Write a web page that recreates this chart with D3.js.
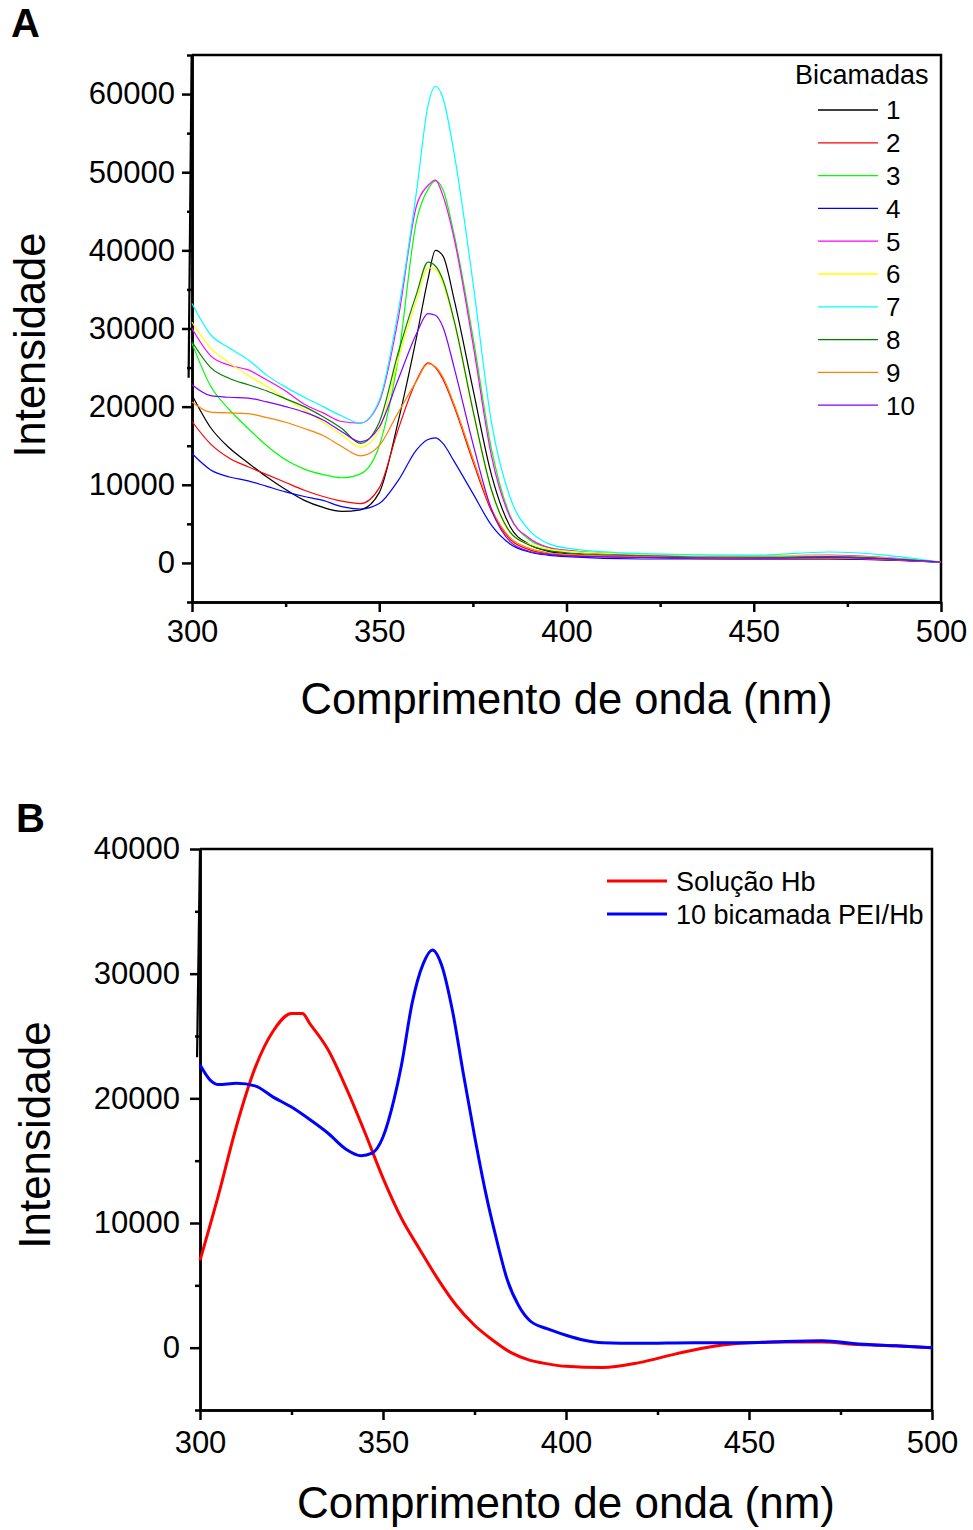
<!DOCTYPE html>
<html>
<head>
<meta charset="utf-8">
<script src="https://cdn.jsdelivr.net/npm/d3@7"></script>
<style>
  body { margin: 0; background: #fff; }
  text { font-family: Arial, "Liberation Sans", sans-serif; fill: #000; }
</style>
</head>
<body>
<svg id="fig" width="973" height="1530"></svg>
<script>
// ---------- data: panel A (emission vs number of bilayers) ----------
var wlA = [300,305,310,315,320,325,330,335,340,345,350,355,360,363,365,367,370,375,380,385,390,395,400,420,450,470,500];
var bic1  = [21500,17300,14700,12800,11000,9400,8000,7100,6600,6800,9000,18000,29000,36300,40000,39300,33700,22300,11200,4600,2400,1500,1200,800,600,600,100];
var bic2  = [18100,15200,13400,12300,11300,10300,9300,8500,7900,7600,9600,17000,23400,25600,25000,23500,20000,13000,6600,3000,1700,1200,1000,700,500,500,100];
var bic3  = [28100,22600,19600,17200,15000,13200,12000,11300,10900,11400,15000,26000,43900,47800,48900,47800,42000,29000,14500,6000,3000,2000,1600,1100,900,800,100];
var bic4  = [14000,11900,11000,10500,9800,9100,8500,8000,7200,6900,7600,10500,14500,15800,16000,15300,13000,8900,4800,2400,1400,1000,800,500,500,500,100];
var bic5  = [30000,26500,25300,24700,23400,22000,20300,19200,18100,17900,20600,31100,45800,48300,49000,47000,41500,28100,13600,5800,3200,2000,1600,1000,900,1000,100];
var bic6  = [30800,27500,25600,24000,22600,21000,19600,18000,16400,14800,17000,26000,33700,37800,37600,35800,30800,19400,9200,3800,2400,1800,1500,1100,900,900,100];
var bic7  = [33200,29200,27500,26000,24000,22500,21200,20000,18800,17900,20800,32000,47700,58500,61000,59500,52400,36000,17900,8300,4200,2500,1900,1200,1000,1400,100];
var bic8  = [28300,25000,23600,22800,22000,21000,20000,18700,17200,15300,18000,26800,34500,38500,38000,36200,31000,19600,9300,3900,2300,1600,1300,900,700,800,100];
var bic9  = [20600,19300,19200,19100,18600,18000,17200,16300,14900,13700,15000,19200,23300,25500,25100,23800,20300,13400,6900,3200,1900,1300,1100,800,600,600,100];
var bic10 = [22800,21400,21200,21100,20600,20000,19300,18300,16800,15500,17400,23400,29400,31900,31700,30200,25000,15300,6800,2700,1500,1100,900,700,600,700,100];
var seriesA = [bic1,bic2,bic3,bic4,bic5,bic6,bic7,bic8,bic9,bic10];
var namesA = ["1","2","3","4","5","6","7","8","9","10"];
var colorsA = ["#000000","#ff0000","#00ff00","#0000ff","#ff00ff","#ffff00","#00ffff","#008000","#ff8000","#8000ff"];
// spike at the very start of the recording
var spikeWlA = [299.1, 300];
var spikeA = [23700, 70000];

// ---------- data: panel B ----------
var wlSol = [300,305,310,315,320,325,328,330,335,340,345,350,355,360,365,370,375,380,385,390,395,400,410,420,430,440,450,460,470,480,490,500];
var solHb = [7000,12200,17800,22400,25400,26800,26800,26000,23900,20800,17300,13600,10400,7900,5500,3400,1800,600,-400,-1000,-1300,-1500,-1600,-1200,-500,100,400,450,450,250,150,0];
var wlPei = [300,303,305,310,315,320,325,330,335,340,344,347,350,353,355,358,361,363.5,366,369,372,375,378,381,384,387,390,395,400,405,410,420,435,450,460,470,480,490,500];
var peiHb = [22700,21400,21100,21200,21000,20100,19300,18300,17200,15900,15400,15600,16900,19900,22600,27700,30800,31900,30700,27000,21900,17000,12500,8700,5400,3400,2200,1500,1000,600,400,350,400,400,500,550,300,150,0];
var namesB = ["Solução Hb", "10 bicamada PEI/Hb"];
var colorsB = ["#ff0000", "#0000ff"];
var spikeWlB = [299.2, 300];
var spikeB = [23300, 40000];

var svg = d3.select("#fig");

function panel(cfg) {
  var x = d3.scaleLinear().domain([300, 500]).range([cfg.x0, cfg.x1]);
  var y = d3.scaleLinear().domain(cfg.yDomain).range([cfg.y1, cfg.y0]);
  var g = svg.append("g");

  var clipId = "clip" + cfg.id;
  svg.append("clipPath").attr("id", clipId)
    .append("rect")
      .attr("x", cfg.x0 - 20).attr("y", cfg.y0)
      .attr("width", cfg.x1 - cfg.x0 + 20).attr("height", cfg.y1 - cfg.y0);

  // frame top / right
  g.append("path")
    .attr("d", "M" + x(300) + "," + y(cfg.yDomain[1]) + "H" + x(500) + "V" + y(cfg.yDomain[0]))
    .attr("fill", "none").attr("stroke", "#000").attr("stroke-width", 2.5);

  // axes
  var ax = d3.axisBottom(x).tickValues(d3.range(300, 501, 50)).tickSize(10).tickSizeOuter(0)
    .tickPadding(cfg.xPad).tickFormat(d3.format("d"));
  var axMinor = d3.axisBottom(x).tickValues(d3.range(325, 500, 50)).tickSize(5).tickSizeOuter(0).tickFormat("");
  var ay = d3.axisLeft(y).tickValues(cfg.yTicks).tickSize(10).tickSizeOuter(0)
    .tickPadding(cfg.yPad).tickFormat(d3.format("d"));
  var ayMinor = d3.axisLeft(y).tickValues(cfg.yMinor).tickSize(5).tickSizeOuter(0).tickFormat("");

  [ [ax, "bottom"], [axMinor, "bottom"], [ay, "left"], [ayMinor, "left"] ].forEach(function(a) {
    var ga = g.append("g")
      .attr("transform", a[1] == "bottom" ? "translate(0," + cfg.y1 + ")" : "translate(" + cfg.x0 + ",0)")
      .call(a[0]);
    ga.selectAll("path,line").attr("stroke", "#000").attr("stroke-width", 2.5);
    ga.selectAll("text").style("font-size", cfg.tickFont + "px").attr("fill", "#000");
  });

  // data lines
  var plot = g.append("g").attr("clip-path", "url(#" + clipId + ")");
  cfg.series.forEach(function(s, i) {
    var line = d3.line()
      .x(function(d, j) { return x(s.wl[j]); })
      .y(function(d) { return y(d); })
      .curve(d3.curveMonotoneX);
    plot.append("path")
      .attr("d", line(s.values))
      .attr("fill", "none")
      .attr("stroke", s.color)
      .attr("stroke-width", cfg.lineWidth);
  });
  var spikeLine = d3.line().x(function(d, j) { return x(cfg.spikeWl[j]); }).y(function(d) { return y(d); });
  plot.append("path").attr("d", spikeLine(cfg.spike))
    .attr("fill", "none").attr("stroke", "#000").attr("stroke-width", 2.2);

  // titles
  g.append("text")
    .attr("x", (cfg.x0 + cfg.x1) / 2).attr("y", cfg.xTitleY)
    .attr("text-anchor", "middle").style("font-size", cfg.titleFont + "px")
    .text("Comprimento de onda (nm)");
  g.append("text")
    .attr("transform", "translate(" + cfg.yTitleX + "," + cfg.yTitleY + ") rotate(-90)")
    .attr("text-anchor", "middle").style("font-size", cfg.titleFont + "px")
    .text("Intensidade");
  g.append("text")
    .attr("x", cfg.letterX).attr("y", cfg.letterY)
    .style("font-size", "40px").style("font-weight", "bold")
    .text(cfg.letter);

  return { x: x, y: y, g: g };
}

// ---------- panel A ----------
var pA = panel({
  id: "A", letter: "A", letterX: 11, letterY: 37,
  x0: 192, x1: 941, y0: 55, y1: 602,
  yDomain: [-5000, 65000],
  yTicks: d3.range(0, 60001, 10000),
  yMinor: d3.range(-5000, 65001, 10000),
  xPad: 8, yPad: 7, tickFont: 31, titleFont: 43.5, lineWidth: 1.2,
  xTitleY: 714, yTitleX: 45, yTitleY: 345,
  series: seriesA.map(function(v, i) { return { wl: wlA, values: v, color: colorsA[i] }; }),
  spikeWl: spikeWlA, spike: spikeA
});

var legA = pA.g.append("g");
legA.append("text").attr("x", 795).attr("y", 84).style("font-size", "27px").text("Bicamadas");
namesA.forEach(function(n, i) {
  var yy = 110 + i * 32.8;
  legA.append("line").attr("x1", 818).attr("x2", 878).attr("y1", yy).attr("y2", yy)
    .attr("stroke", colorsA[i]).attr("stroke-width", 1.3);
  legA.append("text").attr("x", 886).attr("y", yy).attr("dy", "0.36em")
    .style("font-size", "26px").text(n);
});

// ---------- panel B ----------
var pB = panel({
  id: "B", letter: "B", letterX: 16, letterY: 832,
  x0: 200, x1: 932, y0: 849, y1: 1410,
  yDomain: [-5000, 40000],
  yTicks: d3.range(0, 40001, 10000),
  yMinor: d3.range(-5000, 40000, 10000),
  xPad: 11, yPad: 10, tickFont: 31, titleFont: 44, lineWidth: 3,
  xTitleY: 1518, yTitleX: 50, yTitleY: 1135,
  series: [ { wl: wlSol, values: solHb, color: colorsB[0] },
            { wl: wlPei, values: peiHb, color: colorsB[1] } ],
  spikeWl: spikeWlB, spike: spikeB
});

var legB = pB.g.append("g");
namesB.forEach(function(n, i) {
  var yy = 881 + i * 33;
  legB.append("line").attr("x1", 607).attr("x2", 667).attr("y1", yy).attr("y2", yy)
    .attr("stroke", colorsB[i]).attr("stroke-width", 3);
  legB.append("text").attr("x", 676).attr("y", yy).attr("dy", "0.36em")
    .style("font-size", "27px").text(n);
});
</script>
</body>
</html>
